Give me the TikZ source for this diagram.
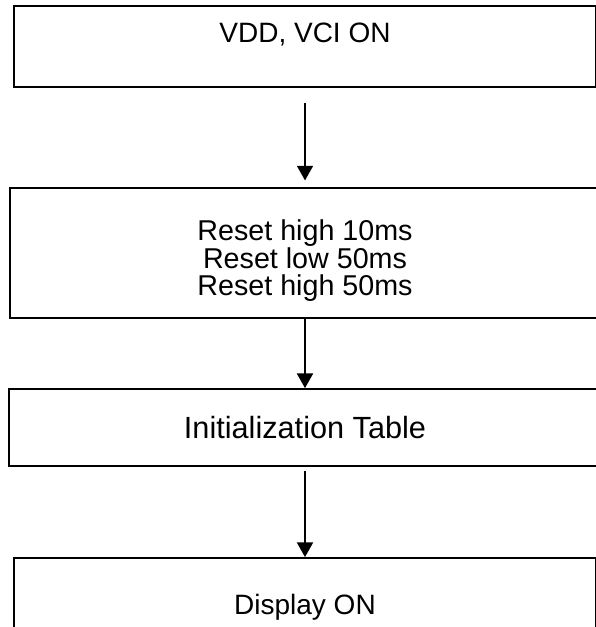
\documentclass[tikz,border=0pt]{standalone}
\usepackage{fontspec}
\setmainfont{Liberation Sans}
\usetikzlibrary{arrows.meta}

\begin{document}
\begin{tikzpicture}[font=\fontsize{21}{18.75}\selectfont, align=center,
	stepbox/.style={draw, line width=1.4pt, inner sep=0pt},
	flow/.style={-{Triangle[length=11pt, width=12pt]}, line width=1.3pt}]
	\useasboundingbox (-228.75pt,34.875pt) rectangle (217.5pt,-435.375pt);
	
	%nodes
	\node (vdd)[stepbox, minimum width=436.5pt, text height=27.75pt, text depth=33pt] {VDD, VCI ON};
	\node (reset)[stepbox, below of=vdd, node distance=154.9pt, minimum width=442.5pt,
		font={\fontsize{21.5}{20.5}\selectfont\lineskiplimit=-20pt}, text height=80.6pt, text depth=16.9pt]
		{Reset high 10ms\\Reset low 50ms\\Reset high 50ms};
	\node (init)[stepbox, below of=reset, node distance=130.9pt, minimum width=444pt, minimum height=57.75pt,
		font=\fontsize{23}{18.75}\selectfont] {Initialization Table};
	\node (disp)[stepbox, below of=init, node distance=134.6pt, minimum width=436.5pt, minimum height=73.5pt]
		{Display ON};
	
	%links
	\draw[flow, shorten <=11.25pt, shorten >=5pt] (vdd) -- (reset);
	\draw[flow] (reset) -- (init);
	\draw[flow, shorten <=3pt] (init) -- (disp);
\end{tikzpicture}
\end{document}
